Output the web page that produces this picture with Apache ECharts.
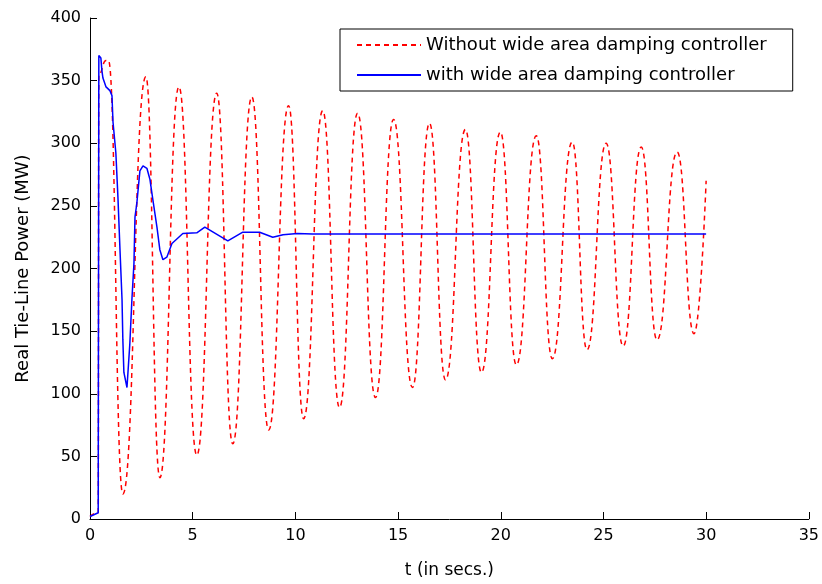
<!DOCTYPE html>
<html>
<head>
<meta charset="utf-8">
<script src="https://cdn.jsdelivr.net/npm/echarts@6/dist/echarts.min.js"></script>
<style>html,body{margin:0;padding:0;background:#fff}#c{width:822px;height:584px}</style>
</head>
<body>
<div id="c"></div>
<script>
// Without wide area damping controller (red, dashed)
var tRed = [0, 0.4, 0.43, 0.78, 0.9, 1.6, 2.72, 3.40, 4.33, 5.20, 6.17, 6.95, 7.88, 8.70, 9.67, 10.40, 11.33, 12.15, 13.03, 13.90, 14.78, 15.70, 16.53, 17.31, 18.28, 19.06, 19.98, 20.76, 21.73, 22.51, 23.48, 24.20, 25.13, 25.96, 26.84, 27.61, 28.59, 29.41, 30.0];
var pRed = [2, 5, 355, 366, 366, 20, 353, 33, 345, 51, 340, 60, 337, 71, 330, 80, 326, 89, 324, 97, 319, 105, 316, 111, 311, 117, 309, 123, 306, 128, 301, 135, 300, 138, 297, 143, 293, 148, 270];
// With wide area damping controller (blue, solid)
var tBlue = [0, 0.4, 0.43, 0.53, 0.58, 0.63, 0.78, 0.97, 1.07, 1.12, 1.26, 1.36, 1.46, 1.56, 1.60, 1.65, 1.80, 1.94, 2.04, 2.14, 2.19, 2.28, 2.43, 2.58, 2.77, 2.92, 3.06, 3.26, 3.40, 3.55, 3.74, 3.99, 4.52, 5.20, 5.59, 6.71, 7.44, 8.26, 8.90, 9.40, 10.10, 10.83, 30.0];
var pBlue = [2, 5, 370, 368, 358, 352, 345, 342, 338, 317, 292, 257, 215, 175, 143, 117, 105, 140, 175, 204, 241, 252, 278, 282, 280, 271, 255, 233, 215, 207, 209, 220, 228, 228.5, 233, 222, 229, 229, 225, 227, 228, 227.5, 227.5];
var xTicks = [0, 35, 5];   // min, max, interval
var yTicks = [0, 400, 50];
var seriesNames = ['Without wide area damping controller', 'with wide area damping controller'];

function pairs(t, v) { return t.map(function (x, i) { return [x, v[i]]; }); }

var FONT = 'DejaVu Sans';
var chart = echarts.init(document.getElementById('c'), null, { renderer: 'canvas' });
chart.setOption({
  animation: false,
  backgroundColor: '#fff',
  textStyle: { fontFamily: FONT, color: '#000' },
  grid: { left: 90, right: 11, top: 18, bottom: 65 },
  legend: {
    orient: 'vertical',
    left: 340, top: 29,
    padding: [7, 26, 7, 16],
    itemGap: 12,
    itemWidth: 64, itemHeight: 14,
    borderColor: '#000', borderWidth: 1,
    backgroundColor: '#fff',
    itemStyle: { opacity: 0, borderWidth: 0 },
    textStyle: { fontFamily: FONT, fontSize: 18, color: '#000' },
    data: seriesNames
  },
  xAxis: {
    type: 'value', min: xTicks[0], max: xTicks[1], interval: xTicks[2],
    name: 't (in secs.)', nameLocation: 'middle', nameGap: 43,
    nameTextStyle: { fontFamily: FONT, fontSize: 17, color: '#000' },
    axisLine: { lineStyle: { color: '#000', width: 1 } },
    axisTick: { inside: true, length: 7, lineStyle: { color: '#000' } },
    axisLabel: { fontFamily: FONT, fontSize: 16, color: '#000', margin: 9 },
    splitLine: { show: false }
  },
  yAxis: {
    type: 'value', min: yTicks[0], max: yTicks[1], interval: yTicks[2],
    name: 'Real Tie-Line Power (MW)', nameLocation: 'middle', nameGap: 58,
    nameTextStyle: { fontFamily: FONT, fontSize: 18, color: '#000' },
    axisLine: { show: true, lineStyle: { color: '#000', width: 1 } },
    axisTick: { show: true, inside: true, length: 7, lineStyle: { color: '#000' } },
    axisLabel: { fontFamily: FONT, fontSize: 16, color: '#000', margin: 9 },
    splitLine: { show: false }
  },
  series: [
    {
      name: seriesNames[0], type: 'line', data: pairs(tRed, pRed),
      smooth: 0.5, smoothMonotone: 'x', symbol: 'none',
      lineStyle: { color: '#ff0000', width: 1.5, type: [5, 4] },
      itemStyle: { color: '#ff0000' }
    },
    {
      name: seriesNames[1], type: 'line', data: pairs(tBlue, pBlue),
      symbol: 'none',
      lineStyle: { color: '#0000ff', width: 1.5 },
      itemStyle: { color: '#0000ff' }
    }
  ]
});
</script>
</body>
</html>
